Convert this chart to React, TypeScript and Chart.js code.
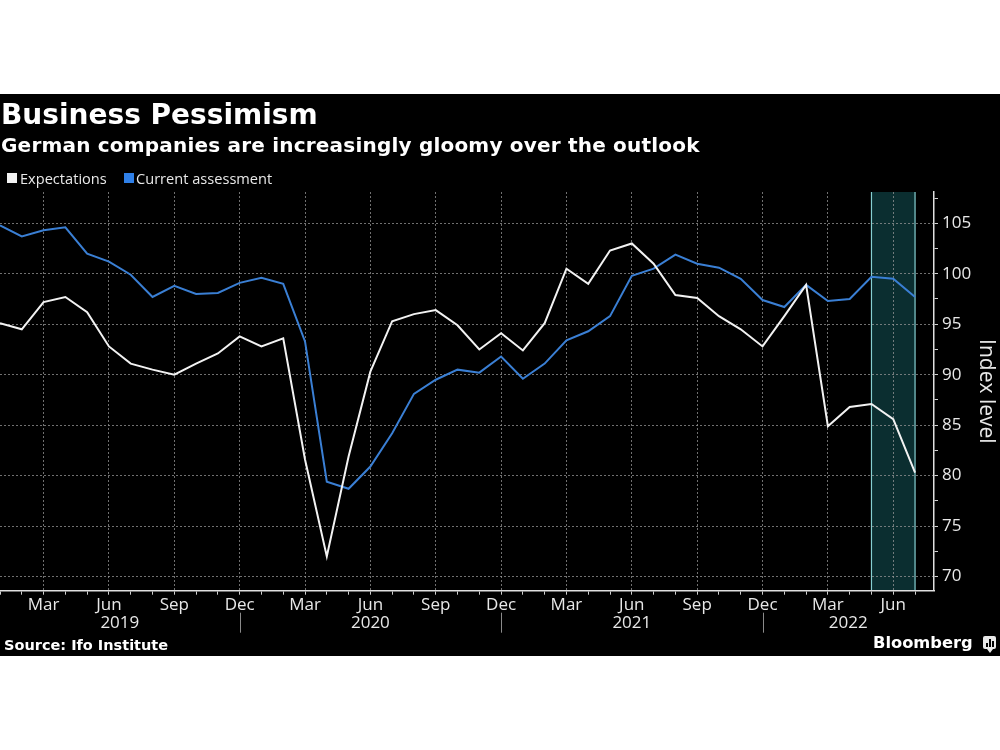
import React, { useEffect, useRef } from "react";
import { Chart, registerables } from "chart.js";

Chart.register(...registerables);

const months: string[] = [
  "Jan 2019", "Feb 2019", "Mar 2019", "Apr 2019", "May 2019", "Jun 2019", "Jul 2019", "Aug 2019", "Sep 2019", "Oct 2019", "Nov 2019", "Dec 2019",
  "Jan 2020", "Feb 2020", "Mar 2020", "Apr 2020", "May 2020", "Jun 2020", "Jul 2020", "Aug 2020", "Sep 2020", "Oct 2020", "Nov 2020", "Dec 2020",
  "Jan 2021", "Feb 2021", "Mar 2021", "Apr 2021", "May 2021", "Jun 2021", "Jul 2021", "Aug 2021", "Sep 2021", "Oct 2021", "Nov 2021", "Dec 2021",
  "Jan 2022", "Feb 2022", "Mar 2022", "Apr 2022", "May 2022", "Jun 2022", "Jul 2022",
];

const expectations: number[] = [
  95.1, 94.5, 97.2, 97.7, 96.2, 92.8, 91.1, 90.5, 90.0, 91.1, 92.1, 93.8,
  92.8, 93.6, 81.6, 72.0, 81.9, 90.3, 95.3, 96.0, 96.4, 94.9, 92.5, 94.1,
  92.4, 95.1, 100.5, 99.0, 102.3, 103.0, 101.0, 97.9, 97.6, 95.8, 94.5, 92.8,
  95.8, 98.9, 84.9, 86.8, 87.1, 85.6, 80.3,
];

const currentAssessment: number[] = [
  104.8, 103.7, 104.3, 104.6, 102.0, 101.2, 99.9, 97.7, 98.8, 98.0, 98.1, 99.1,
  99.6, 99.0, 93.3, 79.4, 78.7, 80.9, 84.2, 88.1, 89.5, 90.5, 90.2, 91.8,
  89.6, 91.1, 93.4, 94.3, 95.8, 99.8, 100.5, 101.9, 101.0, 100.6, 99.5, 97.4,
  96.7, 98.9, 97.3, 97.5, 99.7, 99.5, 97.7,
];

const yTicks: number[] = [70, 72.5, 75, 77.5, 80, 82.5, 85, 87.5, 90, 92.5, 95, 97.5, 100, 102.5, 105, 107.5];
const labeledMonths: string[] = ["Mar", "Jun", "Sep", "Dec"];
const highlightStart = "May 2022";
const highlightEnd = "Jul 2022";
const seriesNames: string[] = ["Expectations", "Current assessment"];

const WHITE = "#f2f2f2";
const BLUE = "#3a7fd4";
const GRID = "rgba(150,150,150,0.75)";
const TEXT = "#e8e8e8";

const CANVAS_W = 1000;
const CANVAS_H = 562;

export default function App() {
  const ref = useRef<HTMLCanvasElement | null>(null);

  useEffect(() => {
    const canvas = ref.current;
    if (!canvas) return;

    const overlay = {
      id: "overlay",
      beforeDraw(chart: any) {
        const { ctx, chartArea } = chart;
        const xs = chart.scales.x;
        const x0 = xs.getPixelForValue(months.indexOf(highlightStart));
        const x1 = xs.getPixelForValue(months.indexOf(highlightEnd));
        ctx.save();
        ctx.fillStyle = "#0b2e30";
        ctx.fillRect(x0, chartArea.top, x1 - x0, chartArea.bottom - chartArea.top);
        ctx.strokeStyle = "#86d0d2";
        ctx.lineWidth = 1.2;
        ctx.beginPath();
        ctx.moveTo(x0, chartArea.top);
        ctx.lineTo(x0, chartArea.bottom);
        ctx.moveTo(x1, chartArea.top);
        ctx.lineTo(x1, chartArea.bottom);
        ctx.stroke();
        ctx.restore();
      },
      afterDraw(chart: any) {
        const { ctx, chartArea } = chart;
        const xs = chart.scales.x;
        const seps: number[] = [];
        months.forEach((m, i) => {
          if (m.startsWith("Dec")) seps.push(i);
        });
        ctx.save();
        ctx.strokeStyle = "#8a8a8a";
        ctx.lineWidth = 1;
        const sepTop = chartArea.bottom + 22;
        const sepBot = chartArea.bottom + 42;
        seps.forEach((i) => {
          const x = Math.round(xs.getPixelForValue(i)) + 0.5;
          ctx.beginPath();
          ctx.moveTo(x, sepTop);
          ctx.lineTo(x, sepBot);
          ctx.stroke();
        });
        const bounds = [xs.getPixelForValue(0), ...seps.map((i) => xs.getPixelForValue(i)), chartArea.right];
        const years = Array.from(new Set(months.map((m) => m.slice(4))));
        ctx.fillStyle = TEXT;
        ctx.font = "17px 'Open Sans'";
        ctx.textAlign = "center";
        ctx.textBaseline = "middle";
        years.forEach((y, k) => {
          const cx = (bounds[k] + bounds[k + 1]) / 2;
          ctx.fillText(y, cx, chartArea.bottom + 32);
        });
        ctx.restore();
      },
    };

    const chart = new Chart(canvas, {
      type: "line",
      data: {
        datasets: [
          {
            label: seriesNames[0],
            data: expectations.map((v, i) => ({ x: i, y: v })),
            borderColor: WHITE,
            backgroundColor: WHITE,
            borderWidth: 2,
            pointRadius: 0,
            tension: 0,
          },
          {
            label: seriesNames[1],
            data: currentAssessment.map((v, i) => ({ x: i, y: v })),
            borderColor: BLUE,
            backgroundColor: BLUE,
            borderWidth: 2,
            pointRadius: 0,
            tension: 0,
          },
        ],
      },
      options: {
        responsive: false,
        animation: false,
        devicePixelRatio: 1,
        layout: { padding: { top: 98, left: 0, right: 0, bottom: 0 } },
        plugins: {
          legend: { display: false },
          tooltip: { enabled: false },
          title: { display: false },
        },
        scales: {
          x: {
            type: "linear",
            min: 0,
            max: months.length - 1 + 0.87,
            afterBuildTicks: (scale: any) => {
              scale.ticks = months.map((_, i) => ({ value: i }));
            },
            afterFit: (scale: any) => {
              scale.height = 65.3;
            },
            ticks: {
              autoSkip: false,
              maxRotation: 0,
              color: TEXT,
              font: { family: "'Open Sans'", size: 17 },
              padding: 0,
              callback: (v: any) => {
                const m = months[v as number];
                if (!m) return "";
                const mm = m.slice(0, 3);
                return labeledMonths.includes(mm) ? mm : "";
              },
            },
            grid: {
              color: (ctx: any) => {
                const m = months[ctx.tick?.value];
                return m && labeledMonths.includes(m.slice(0, 3)) ? GRID : "transparent";
              },
              lineWidth: 1,
              tickColor: "#d0d0d0",
              tickLength: 4,
              drawTicks: true,
            },
            border: { display: true, color: "#e0e0e0", width: 1.5, dash: [2, 2] },
          },
          y: {
            type: "linear",
            position: "right",
            min: 68.6,
            max: 108.1,
            afterBuildTicks: (scale: any) => {
              scale.ticks = yTicks.map((v) => ({ value: v }));
            },
            afterFit: (scale: any) => {
              scale.width = 66;
            },
            ticks: {
              color: TEXT,
              font: { family: "'Open Sans'", size: 17 },
              padding: 4,
              callback: (v: any) => (Number(v) % 5 === 0 ? String(v) : ""),
            },
            grid: {
              color: (ctx: any) => (ctx.tick && ctx.tick.value % 5 === 0 ? GRID : "transparent"),
              lineWidth: 1,
              tickColor: "#d0d0d0",
              tickLength: 4,
            },
            border: { display: true, color: "#e0e0e0", width: 1.5, dash: [2, 2] },
            title: {
              display: true,
              text: "Index level",
              color: TEXT,
              font: { family: "'Open Sans'", size: 21 },
              padding: { top: 1, bottom: 0 },
            },
          },
        },
      },
      plugins: [overlay],
    } as any);

    return () => chart.destroy();
  }, []);

  return (
    <div style={{ position: "fixed", left: 0, top: 0, width: 1000, height: 750, background: "#fff", overflow: "hidden" }}>
      <div style={{ position: "absolute", left: 0, top: 94, width: 1000, height: 562, background: "#000" }} />
      <canvas
        ref={ref}
        width={CANVAS_W}
        height={CANVAS_H}
        style={{ position: "absolute", left: 0, top: 94, width: CANVAS_W, height: CANVAS_H }}
      />
      <div style={{ position: "absolute", left: 1, top: 101, fontFamily: "'DejaVu Sans'", fontWeight: 700, fontSize: 28, lineHeight: "28px", color: "#fff", whiteSpace: "nowrap" }}>
        Business Pessimism
      </div>
      <div style={{ position: "absolute", left: 1, top: 135, fontFamily: "'DejaVu Sans'", fontWeight: 700, fontSize: 20, lineHeight: "20px", letterSpacing: 0.2, color: "#fff", whiteSpace: "nowrap" }}>
        German companies are increasingly gloomy over the outlook
      </div>
      <div style={{ position: "absolute", left: 0, top: 168, height: 20, fontFamily: "'Open Sans'", fontSize: 14.6, color: TEXT, whiteSpace: "nowrap" }}>
        <span style={{ position: "absolute", left: 7, top: 5, width: 10, height: 10, background: WHITE }} />
        <span style={{ position: "absolute", left: 20, top: 0, lineHeight: "20px" }}>{seriesNames[0]}</span>
        <span style={{ position: "absolute", left: 124, top: 5, width: 10, height: 10, background: "#2f80e8" }} />
        <span style={{ position: "absolute", left: 136, top: 0, lineHeight: "20px" }}>{seriesNames[1]}</span>
      </div>
      <div style={{ position: "absolute", left: 4, top: 636, fontFamily: "'DejaVu Sans'", fontWeight: 700, fontSize: 14.5, lineHeight: "18px", color: "#fff", whiteSpace: "nowrap" }}>
        Source: Ifo Institute
      </div>
      <div style={{ position: "absolute", left: 873, top: 633, fontFamily: "'DejaVu Sans'", fontWeight: 700, fontSize: 16.3, lineHeight: "20px", color: "#fff", whiteSpace: "nowrap" }}>
        Bloomberg
      </div>
      <div style={{ position: "absolute", left: 983, top: 636, width: 13, height: 13, background: "#e8e8e8", borderRadius: 2 }}>
        <span style={{ position: "absolute", left: 3, top: 7, width: 2, height: 4, background: "#000" }} />
        <span style={{ position: "absolute", left: 6, top: 3, width: 2, height: 8, background: "#000" }} />
        <span style={{ position: "absolute", left: 9, top: 5, width: 2, height: 6, background: "#000" }} />
      </div>
      <div style={{ position: "absolute", left: 987, top: 649, width: 0, height: 0, borderLeft: "3px solid transparent", borderRight: "3px solid transparent", borderTop: "4px solid #e8e8e8" }} />
    </div>
  );
}
